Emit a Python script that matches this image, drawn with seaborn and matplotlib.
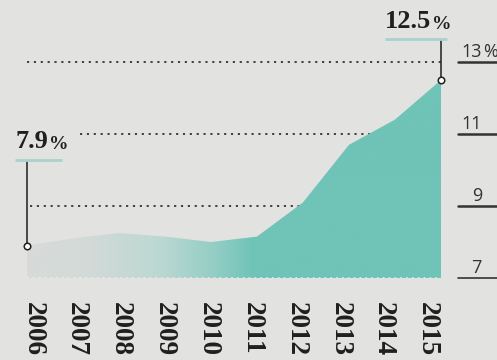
import numpy as np
import matplotlib
matplotlib.use("Agg")
import matplotlib.pyplot as plt
import matplotlib.transforms as mtransforms
from matplotlib.colors import LinearSegmentedColormap
import seaborn as sns

# Unemployment-style rate, percent
years = [2006, 2007, 2008, 2009, 2010, 2011, 2012, 2013, 2014, 2015]
rate = [7.9, 8.1, 8.25, 8.15, 8.0, 8.15, 9.1, 10.7, 11.4, 12.5]
year_labels = [str(y) for y in years]

scale_values = [7, 9, 11, 13]
scale_labels = ["7", "9", "11", "13"]
grid_levels = [13, 11, 9]
grid_starts = [2006.0, 2007.15, 2006.07]

BG = "#e2e2e0"
TEAL = "#6fc3b7"
TEAL_LIGHT = "#a8d3cc"
INK = "#1f1f1f"
GREY_INK = "#333333"

sns.set_theme(style="white")

fig = plt.figure(figsize=(4.97, 3.6), dpi=100, facecolor=BG)
ax = fig.add_axes([27 / 497, 82 / 360, 414 / 497, 278 / 360])
ax.set_facecolor("none")
ax.set_xlim(years[0], years[-1])
ax.set_ylim(7, 7 + 278 / 36)
for s in ax.spines.values():
    s.set_visible(False)
ax.set_yticks([])

# dotted reference levels (drawn behind the area)
for lvl, x0 in zip(grid_levels, grid_starts):
    ax.hlines(lvl, x0, years[-1], colors=GREY_INK, linestyles=(0, (1.2, 2.6)),
              linewidth=1.3, zorder=1)

# area with a left-to-right fade from paper grey into teal
poly = ax.fill_between(years, 7, rate, facecolor="none", linewidth=0, zorder=2)
cmap = LinearSegmentedColormap.from_list(
    "fade",
    [(0.0, "#d8dad9"), (0.15, "#d2dad8"), (0.32, "#bcd8d2"),
     (0.45, "#94cec5"), (0.55, TEAL), (1.0, TEAL)],
)
grad = np.linspace(0, 1, 256).reshape(1, -1)
im = ax.imshow(grad, cmap=cmap, aspect="auto", zorder=2,
               extent=[years[0], years[-1], 7, max(rate)], origin="lower")
im.set_clip_path(poly.get_paths()[0], transform=ax.transData)

# faint baseline dots along the bottom of the area
ax.hlines(7, years[0], years[-1], colors="#eef0ef", linestyles=(0, (1, 2.5)),
          linewidth=1.2, zorder=3)

# leader lines to the callouts
lead_top_first = 7 + (278 - 160) / 36
lead_top_last = 7 + (278 - 39) / 36
ax.vlines(years[0], rate[0], lead_top_first, colors=INK, linewidth=1.1, zorder=4, clip_on=False)
ax.vlines(years[-1], rate[-1], lead_top_last, colors=INK, linewidth=1.1, zorder=4, clip_on=False)
ax.hlines(lead_top_first, years[0] - 0.26, years[0] + 0.76, colors=TEAL_LIGHT, linewidth=2.0,
          zorder=4, clip_on=False)
ax.hlines(lead_top_last, years[-1] - 1.22, years[-1] + 0.13, colors=TEAL_LIGHT, linewidth=2.0,
          zorder=4, clip_on=False)

# endpoint markers
sns.scatterplot(x=[years[0], years[-1]], y=[rate[0], rate[-1]], ax=ax, s=22,
                color="white", edgecolor=INK, linewidth=1.1, zorder=5, clip_on=False,
                legend=False)

# callout values
callout_font = dict(family="Liberation Serif", weight="bold", color=INK)
t1 = ax.text(years[0] - 0.26, lead_top_first + 12 / 36, f"{rate[0]}", fontsize=19,
             ha="left", va="baseline", **callout_font)
ax.annotate("%", xy=(1, 0), xycoords=t1, xytext=(0.5, 0), textcoords="offset points",
            fontsize=14, ha="left", va="bottom", **callout_font)
t2 = ax.text(years[-1] - 1.22, lead_top_last + 11 / 36, f"{rate[-1]}", fontsize=19,
             ha="left", va="baseline", **callout_font)
ax.annotate("%", xy=(1, 0), xycoords=t2, xytext=(0.5, 0), textcoords="offset points",
            fontsize=14, ha="left", va="bottom", **callout_font)

# right-hand scale with underlined labels
blend = mtransforms.blended_transform_factory(ax.transAxes, ax.transData)
scale_font = dict(fontsize=13, family="Open Sans", weight="normal", color=GREY_INK)
for v, lab in zip(scale_values, scale_labels):
    ax.plot([1.041, 1.14], [v, v], transform=blend, color=GREY_INK,
            linewidth=1.8 if v != 7 else 1.2, clip_on=False, zorder=4)
    t = ax.annotate(lab, xy=(1.099, v), xycoords=blend, xytext=(0, 3.5),
                    textcoords="offset points", ha="right", va="baseline", **scale_font)
    if v == max(scale_values):
        ax.annotate("%", xy=(1, 0), xycoords=t, xytext=(0.5, 0), textcoords="offset points",
                    ha="left", va="bottom", **scale_font)

# rotated year labels
label_x = np.linspace(2006.13, 2014.71, len(years))
ax.set_xticks(label_x)
ax.set_xticklabels(year_labels, rotation=270, fontsize=19.5, family="Liberation Serif",
                   weight="bold", color=INK)
ax.tick_params(axis="x", length=0, pad=17)

fig.savefig("out.png", dpi=100, facecolor=BG)
